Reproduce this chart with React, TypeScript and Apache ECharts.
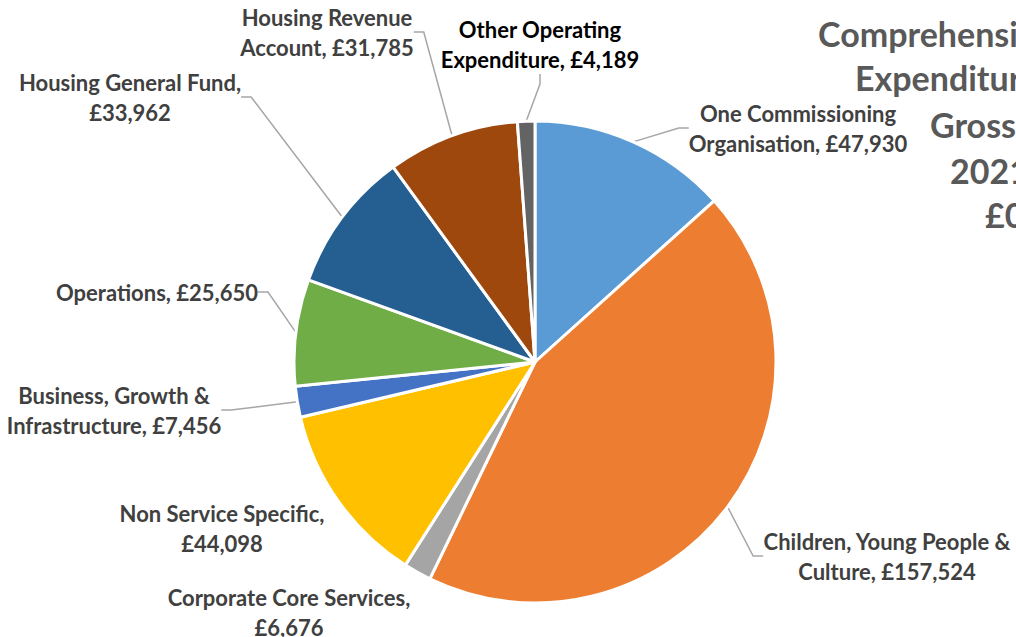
import React, { useEffect, useRef } from "react";
import * as echarts from "echarts";

// ---- data ----
const categories = [
  "One Commissioning Organisation",
  "Children, Young People & Culture",
  "Corporate Core Services",
  "Non Service Specific",
  "Business, Growth & Infrastructure",
  "Operations",
  "Housing General Fund",
  "Housing Revenue Account",
  "Other Operating Expenditure",
];
const values = [47930, 157524, 6676, 44098, 7456, 25650, 33962, 31785, 4189];

// label wrapping (text only)
const labelNames = [
  "One Commissioning\nOrganisation",
  "Children, Young People &\nCulture",
  "Corporate Core Services",
  "Non Service Specific",
  "Business, Growth &\nInfrastructure",
  "Operations",
  "Housing General Fund",
  "Housing Revenue\nAccount",
  "Other Operating\nExpenditure",
];
const valueOnNewLine = [false, false, true, true, false, false, true, false, false];

const titleLines = [
  "Comprehensive Income and",
  "Expenditure Statement",
  "Gross Expenditure",
  "2021/22",
  "£000",
];

// ---- styles / layout ----
const colors = [
  "#5B9BD5",
  "#ED7D31",
  "#A5A5A5",
  "#FFC000",
  "#4472C4",
  "#70AD47",
  "#255E91",
  "#9E480E",
  "#636363",
];
const labelColors = ["#404040", "#404040", "#404040", "#404040", "#404040", "#404040", "#404040", "#404040", "#000000"];
const showLeader = [true, true, false, false, true, true, true, true, true];
const labelCenterX = [798, 887, 289, 222, 114, 157, 130, 327, 540];
const labelCenterY = [128, 556, 612, 528, 410, 292, 97, 32, 44];
const titleLeft = [818, 855, 930, 950, 985];
const titleMidY = [33, 77, 124, 170, 214];

const FONT = "Lato, 'Open Sans', sans-serif";

export default function App() {
  const ref = useRef<HTMLDivElement>(null);

  useEffect(() => {
    document.body.style.margin = "0";
    if (!ref.current) return;
    const chart = echarts.init(ref.current, null, { renderer: "svg" });

    const data = categories.map((name, i) => ({
      name,
      value: values[i],
      itemStyle: { color: colors[i] },
      label: { color: labelColors[i] },
      labelLine: { show: showLeader[i] },
    }));

    chart.setOption({
      animation: false,
      backgroundColor: "#ffffff",
      graphic: titleLines.map((t, i) => ({
        type: "text",
        x: titleLeft[i],
        y: titleMidY[i],
        style: {
          text: t,
          fill: "#595959",
          font: `bold 34px ${FONT}`,
          align: "left",
          verticalAlign: "middle",
        },
      })),
      series: [
        {
          type: "pie",
          center: [535, 362],
          radius: 241,
          startAngle: 90,
          clockwise: true,
          avoidLabelOverlap: false,
          itemStyle: { borderColor: "#ffffff", borderWidth: 3 },
          label: {
            show: true,
            position: "outside",
            fontFamily: FONT,
            fontWeight: "bold",
            fontSize: 22,
            lineHeight: 30,
            align: "center",
            formatter: (p: any) =>
              labelNames[p.dataIndex] +
              (valueOnNewLine[p.dataIndex] ? ",\n" : ", ") +
              "£" +
              Number(p.value).toLocaleString("en-GB"),
          },
          labelLine: {
            show: true,
            length: 10,
            length2: 10,
            lineStyle: { color: "#A6A6A6", width: 1.5 },
          },
          labelLayout: (params: any) => ({
            x: labelCenterX[params.dataIndex],
            y: labelCenterY[params.dataIndex],
            align: "center",
            verticalAlign: "middle",
          }),
          data,
        },
      ],
    });

    return () => chart.dispose();
  }, []);

  return (
    <div
      ref={ref}
      style={{ position: "fixed", left: 0, top: 0, width: 1016, height: 637 }}
    />
  );
}
